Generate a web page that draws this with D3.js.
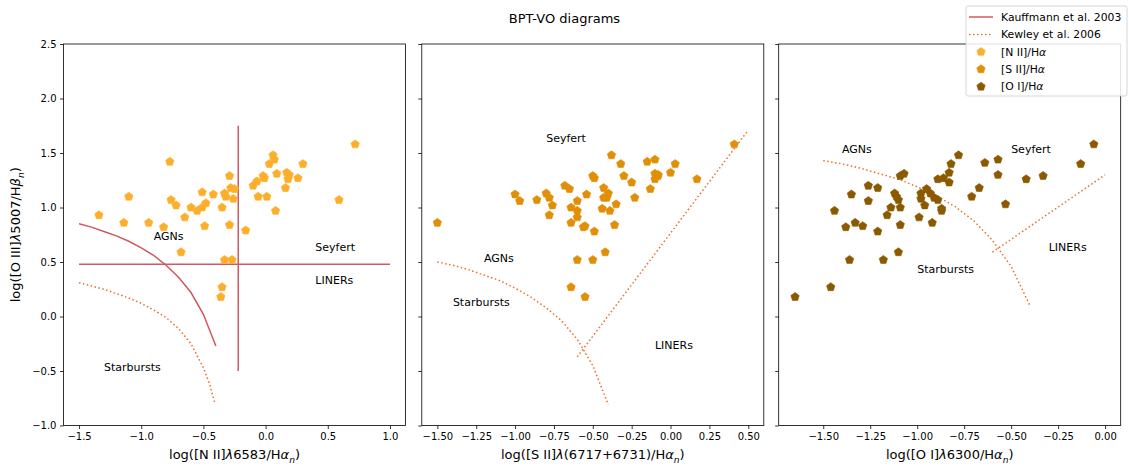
<!DOCTYPE html>
<html>
<head>
<meta charset="utf-8">
<script src="https://cdn.jsdelivr.net/npm/d3@7/dist/d3.min.js"></script>
<style>
    body { margin: 0; background: #fff; }
    svg text { font-family: "DejaVu Sans", sans-serif; fill: #000; }
</style>
</head>
<body>
<div id="chart"></div>
<script>
// ---- data ----
// [N II]/Ha panel
var niiX = [0.72, -0.77, 0.06, 0.07, 0.03, 0.30, -0.29, -0.02, -0.01, 0.09, 0.17, 0.19, 0.18, 0.26, -0.07, -0.10, 0.16,
    -1.10, -0.76, -0.72, -0.51, -0.42, -0.33, -0.32, -0.28, -0.25, -0.26, -0.06, 0.01, 0.08, -0.60, -0.55, -0.51, -0.48,
    -0.35, -0.65, -0.82, -0.49, -0.29, -0.16, -1.34, -1.14, -0.94, 0.59, -0.68, -0.33, -0.27, -0.35, -0.36]
var niiY = [1.58, 1.42, 1.48, 1.44, 1.40, 1.40, 1.29, 1.29, 1.27, 1.31, 1.32, 1.30, 1.26, 1.27, 1.24, 1.20, 1.18,
    1.10, 1.07, 1.02, 1.14, 1.12, 1.13, 1.10, 1.18, 1.17, 1.08, 1.10, 1.10, 0.97, 1.00, 0.97, 1.00, 1.04,
    1.00, 0.91, 0.82, 0.83, 0.84, 0.79, 0.93, 0.86, 0.86, 1.07, 0.59, 0.52, 0.52, 0.27, 0.18]

// [S II]/Ha panel
var siiX = [0.41, -0.38, -0.32, -0.15, -0.10, 0.03, -0.30, -0.25, -0.10, -0.08, -0.10, -0.08, 0.00, 0.17, -0.13,
    -0.50, -0.49, -0.68, -0.65, -1.00, -0.97, -0.86, -0.80, -0.78, -0.76, -0.78, -0.60, -0.64, -0.60, -0.60, -0.64,
    -0.56, -0.55, -0.49, -0.54, -0.43, -0.40, -0.41, -0.43, -0.35, -0.44, -0.39, -0.36, -0.23, -1.50, -0.42, -0.60,
    -0.50, -0.64, -0.55]
var siiY = [1.58, 1.48, 1.40, 1.42, 1.44, 1.40, 1.29, 1.23, 1.31, 1.30, 1.26, 1.29, 1.32, 1.26, 1.17,
    1.29, 1.27, 1.20, 1.17, 1.12, 1.06, 1.07, 1.13, 1.09, 1.02, 0.93, 1.06, 1.00, 0.97, 0.91, 0.86,
    0.82, 0.83, 0.78, 1.12, 1.18, 1.13, 1.09, 1.09, 1.03, 0.99, 0.97, 0.84, 1.09, 0.86, 0.59, 0.52,
    0.52, 0.27, 0.18]

// [O I]/Ha panel
var oiX = [-0.06, -0.13, -0.78, -0.64, -0.57, -0.57, -0.42, -0.33, -0.82, -0.83, -0.89, -0.86, -0.83, -1.09, -1.07,
    -0.67, -0.71, -0.53, -1.26, -1.21, -1.35, -1.26, -1.12, -1.11, -1.10, -1.44, -1.14, -1.09, -1.16, -1.38, -1.33,
    -1.29, -1.21, -1.09, -1.36, -1.18, -1.10, -1.46, -1.65, -0.95, -0.98, -0.93, -0.98, -0.91, -0.89, -0.96, -0.87,
    -0.87, -0.99, -0.92]
var oiY = [1.58, 1.40, 1.48, 1.41, 1.44, 1.30, 1.26, 1.29, 1.40, 1.32, 1.26, 1.27, 1.23, 1.29, 1.31,
    1.18, 1.10, 1.03, 1.20, 1.18, 1.12, 1.06, 1.13, 1.10, 1.07, 0.97, 1.00, 1.00, 0.93, 0.82, 0.86,
    0.83, 0.78, 0.84, 0.52, 0.52, 0.59, 0.27, 0.18, 1.17, 1.13, 1.13, 1.08, 1.09, 1.07, 1.02, 0.99,
    0.97, 0.91, 0.86]

// demarcation curves
var curveX = [-1.5, -1.4, -1.3, -1.2, -1.1, -1.0, -0.9, -0.8, -0.7, -0.6, -0.5, -0.4]
var kauffNiiY = [0.85, 0.82, 0.78, 0.74, 0.69, 0.63, 0.56, 0.47, 0.36, 0.22, 0.02, -0.27]
var kewleyNiiX = [-1.5, -1.4, -1.3, -1.2, -1.1, -1.0, -0.9, -0.8, -0.7, -0.6, -0.5, -0.45, -0.41]
var kewleyNiiY = [0.31, 0.28, 0.25, 0.21, 0.17, 0.12, 0.06, -0.01, -0.11, -0.25, -0.47, -0.62, -0.79]
var kewleySiiY = [0.50, 0.47, 0.43, 0.38, 0.33, 0.26, 0.18, 0.08, -0.04, -0.21, -0.45, -0.81]
var kewleyOiY = [1.43, 1.40, 1.36, 1.31, 1.26, 1.19, 1.11, 1.01, 0.88, 0.70, 0.46, 0.10]
// Seyfert / LINER straight lines
var sLinerSiiX = [-0.6, 0.5]
var sLinerSiiY = [-0.37, 1.71]
var sLinerOiX = [-0.6, 0.0]
var sLinerOiY = [0.59, 1.30]
// Kauffmann cross in panel 1
var kauffHX = [-1.5, 1.0], kauffHY = 0.48
var kauffVX = -0.22, kauffVY = [-0.5, 1.75]

// axis limits and ticks
var yLim = [-1.0, 2.5]
var yTicks = [-1.0, -0.5, 0.0, 0.5, 1.0, 1.5, 2.0, 2.5]
var xLims = [[-1.625, 1.125], [-1.6, 0.6], [-1.737, 0.083]]
var xTicks = [
    [-1.5, -1.0, -0.5, 0.0, 0.5, 1.0],
    [-1.5, -1.25, -1.0, -0.75, -0.5, -0.25, 0.0, 0.25, 0.5],
    [-1.5, -1.25, -1.0, -0.75, -0.5, -0.25, 0.0]
]

// region labels [text, x, y]
var regionLabels = [
    [['AGNs', -0.9, 0.70], ['Seyfert', 0.4, 0.60], ['LINERs', 0.4, 0.30], ['Starbursts', -1.3, -0.50]],
    [['Seyfert', -0.8, 1.60], ['AGNs', -1.2, 0.50], ['Starbursts', -1.4, 0.10], ['LINERs', -0.1, -0.30]],
    [['AGNs', -1.4, 1.50], ['Seyfert', -0.5, 1.50], ['LINERs', -0.3, 0.60], ['Starbursts', -1.0, 0.40]]
]

var kauffColor = '#d05860'
var kewleyColor = '#e8702a'
var pointColors = ['#fdae2b', '#e18f06', '#8b5a00']

// ---- layout ----
var width = 1129
var height = 466
var top0 = 44
var bottom0 = 425.5
var panelW = 342
var panelLeft = [63.5, 421.8, 778.7]

var svg = d3.select('#chart').append('svg').attr('width', width).attr('height', height)

var yScale = d3.scaleLinear().domain(yLim).range([bottom0, top0])

// pentagon marker, point up (like matplotlib 'p')
function pentagon(r) {
    var pts = []
    for (let k = 0; k < 5; k++) {
        let a = -Math.PI / 2 + k * 2 * Math.PI / 5
        pts.push([r * Math.cos(a), r * Math.sin(a)])
    }
    return 'M' + pts.map(p => p[0].toFixed(2) + ',' + p[1].toFixed(2)).join('L') + 'Z'
}
var pentPath = pentagon(4.4)

// mathtext helper: parts = [text, italic?, sub?]
function mathText(sel, parts, size) {
    let prevSub = false
    parts.forEach(p => {
        let t = sel.append('tspan').text(p[0])
        if (p[1]) t.attr('font-style', 'italic')
        if (p[2]) {
            t.attr('font-size', size * 0.7).attr('dy', size * 0.3)
            prevSub = true
        } else if (prevSub) {
            t.attr('dy', -size * 0.3)
            prevSub = false
        }
    })
}

var xLabels = [
    [['log([N II]'], ['λ', true], ['6583/H'], ['α', true], ['n', true, true], [')']],
    [['log([S II]'], ['λ', true], ['(6717+6731)/H'], ['α', true], ['n', true, true], [')']],
    [['log([O I]'], ['λ', true], ['6300/H'], ['α', true], ['n', true, true], [')']]
]

var pointX = [niiX, siiX, oiX]
var pointY = [niiY, siiY, oiY]

var line = (xs, ys, xScale) => d3.line().x((d, i) => xScale(xs[i])).y(d => yScale(d))(ys)

for (let k = 0; k < 3; k++) {
    var xScale = d3.scaleLinear().domain(xLims[k]).range([0, panelW])
    var g = svg.append('g').attr('transform', `translate(${panelLeft[k]},0)`)

    // axes
    var xAxis = d3.axisBottom(xScale).tickValues(xTicks[k])
        .tickFormat(k == 0 ? d3.format('.1f') : d3.format('.2f'))
        .tickSize(3.5).tickPadding(3.5)
    var gx = g.append('g').attr('transform', `translate(0,${bottom0})`).call(xAxis)
    gx.select('.domain').remove()

    var yAxis = d3.axisLeft(yScale).tickValues(yTicks).tickFormat(d3.format('.1f'))
        .tickSize(3.5).tickPadding(3.5)
    var gy = g.append('g').call(yAxis)
    gy.select('.domain').remove()
    if (k > 0) gy.selectAll('text').remove()
    g.selectAll('.tick text').attr('font-size', 10).attr('font-family', '"DejaVu Sans", sans-serif')
    g.selectAll('.tick line').attr('stroke', '#000').attr('stroke-width', 0.8)

    // demarcation lines
    if (k == 0) {
        g.append('path').attr('d', line(curveX, kauffNiiY, xScale))
            .attr('fill', 'none').attr('stroke', kauffColor).attr('stroke-width', 1.5)
        g.append('line').attr('x1', xScale(kauffHX[0])).attr('x2', xScale(kauffHX[1]))
            .attr('y1', yScale(kauffHY)).attr('y2', yScale(kauffHY))
            .attr('stroke', kauffColor).attr('stroke-width', 1.5)
        g.append('line').attr('x1', xScale(kauffVX)).attr('x2', xScale(kauffVX))
            .attr('y1', yScale(kauffVY[0])).attr('y2', yScale(kauffVY[1]))
            .attr('stroke', kauffColor).attr('stroke-width', 1.5)
        g.append('path').attr('d', line(kewleyNiiX, kewleyNiiY, xScale))
            .attr('fill', 'none').attr('stroke', kewleyColor).attr('stroke-width', 1.5)
            .attr('stroke-dasharray', '1.5,2.5')
    } else {
        var cy = k == 1 ? kewleySiiY : kewleyOiY
        var sx = k == 1 ? sLinerSiiX : sLinerOiX
        var sy = k == 1 ? sLinerSiiY : sLinerOiY
        g.append('path').attr('d', line(curveX, cy, xScale))
            .attr('fill', 'none').attr('stroke', kewleyColor).attr('stroke-width', 1.5)
            .attr('stroke-dasharray', '1.5,2.5')
        g.append('path').attr('d', line(sx, sy, xScale))
            .attr('fill', 'none').attr('stroke', kewleyColor).attr('stroke-width', 1.5)
            .attr('stroke-dasharray', '1.5,2.5')
    }

    // points
    g.append('g').selectAll('path').data(pointY[k]).join('path')
        .attr('d', pentPath)
        .attr('transform', (d, i) => `translate(${xScale(pointX[k][i])},${yScale(d)})`)
        .attr('fill', pointColors[k])
        .attr('stroke', pointColors[k]).attr('stroke-width', 0.6)

    // region labels
    g.append('g').selectAll('text').data(regionLabels[k]).join('text')
        .attr('x', d => xScale(d[1])).attr('y', d => yScale(d[2]))
        .attr('font-size', 11).text(d => d[0])

    // frame
    g.append('rect').attr('x', 0).attr('y', top0).attr('width', panelW).attr('height', bottom0 - top0)
        .attr('fill', 'none').attr('stroke', '#000').attr('stroke-width', 0.8)

    // x label
    var xl = g.append('text').attr('x', panelW / 2).attr('y', 459).attr('text-anchor', 'middle').attr('font-size', 13)
    mathText(xl, xLabels[k], 13)
}

// y label
var yl = svg.append('text').attr('transform', `translate(20,${(top0 + bottom0) / 2}) rotate(-90)`)
    .attr('text-anchor', 'middle').attr('font-size', 13)
mathText(yl, [['log([O III]'], ['λ', true], ['5007/H'], ['β', true], ['n', true, true], [')']], 13)

// title
svg.append('text').attr('x', width / 2).attr('y', 23).attr('text-anchor', 'middle').attr('font-size', 13)
    .text('BPT-VO diagrams')

// legend
var lg = svg.append('g').attr('transform', 'translate(966,6)')
lg.append('rect').attr('width', 161).attr('height', 90).attr('rx', 2)
    .attr('fill', '#fff').attr('fill-opacity', 0.85).attr('stroke', '#cccccc').attr('stroke-width', 0.8)
var legendItems = [
    { type: 'line', color: kauffColor, dash: null, label: [['Kauffmann et al. 2003']] },
    { type: 'line', color: kewleyColor, dash: '1.5,2.5', label: [['Kewley et al. 2006']] },
    { type: 'pt', color: pointColors[0], label: [['[N II]/H'], ['α', true]] },
    { type: 'pt', color: pointColors[1], label: [['[S II]/H'], ['α', true]] },
    { type: 'pt', color: pointColors[2], label: [['[O I]/H'], ['α', true]] }
]
legendItems.forEach((it, i) => {
    var yy = 11 + i * 17.4
    if (it.type == 'line') {
        lg.append('line').attr('x1', 3).attr('x2', 27).attr('y1', yy).attr('y2', yy)
            .attr('stroke', it.color).attr('stroke-width', 1.5)
            .attr('stroke-dasharray', it.dash)
    } else {
        lg.append('path').attr('d', pentPath).attr('transform', `translate(15,${yy})`)
            .attr('fill', it.color).attr('stroke', it.color).attr('stroke-width', 0.6)
    }
    var t = lg.append('text').attr('x', 35).attr('y', yy + 3.8).attr('font-size', 10.8)
    mathText(t, it.label, 10.8)
})
</script>
</body>
</html>
